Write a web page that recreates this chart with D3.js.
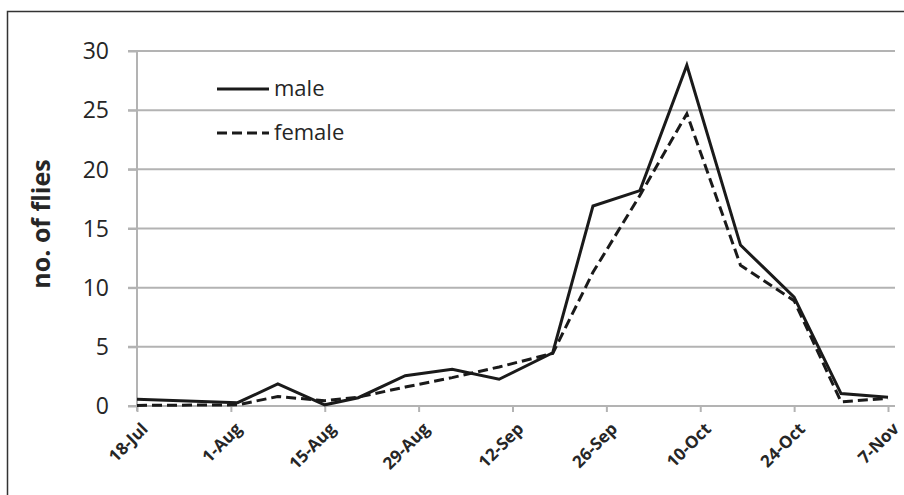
<!DOCTYPE html>
<html>
<head>
<meta charset="utf-8">
<script src="https://cdn.jsdelivr.net/npm/d3@7"></script>
<style>
  body { margin: 0; background: #fff; }
  svg { display: block; }
  .grid line { stroke: #b3b3b3; stroke-width: 2; }
  .axis path, .axis line { stroke: #b3b3b3; stroke-width: 2; }
  .ylabel { font-family: "Open Sans", sans-serif; font-size: 23px; fill: #262626; }
  .xlabel { font-family: "Open Sans", sans-serif; font-size: 17px; font-weight: bold; fill: #262626; }
  .title { font-family: "Open Sans", sans-serif; font-size: 25px; font-weight: bold; fill: #262626; }
  .legend text { font-family: "Open Sans", sans-serif; font-size: 22px; fill: #262626; }
</style>
</head>
<body>
<script>

//------------------------------------------------------------------------------
// Data
//------------------------------------------------------------------------------

var sampleDates = ["2011-07-18", "2011-08-02", "2011-08-08", "2011-08-15",
  "2011-08-20", "2011-08-27", "2011-09-03", "2011-09-10", "2011-09-18",
  "2011-09-24", "2011-10-01", "2011-10-08", "2011-10-16", "2011-10-24",
  "2011-10-31", "2011-11-07"];

var male = [0.57, 0.28, 1.86, 0.1, 0.7, 2.56, 3.1, 2.26, 4.5,
  16.9, 18.2, 28.8, 13.6, 9.2, 1.05, 0.73];

var female = [0.05, 0.1, 0.8, 0.45, 0.75, 1.6, 2.4, 3.3, 4.45,
  11.3, 17.8, 24.7, 11.9, 8.9, 0.35, 0.65];

var tickDates = ["2011-07-18", "2011-08-01", "2011-08-15", "2011-08-29",
  "2011-09-12", "2011-09-26", "2011-10-10", "2011-10-24", "2011-11-07"];

var yTicks = [0, 5, 10, 15, 20, 25, 30];

var series = [
  {name: "male", values: male, dash: null},
  {name: "female", values: female, dash: "10,5"}
];

//------------------------------------------------------------------------------
// Layout
//------------------------------------------------------------------------------

var width = 904, height = 495;
var plotLeft = 137, plotRight = 888, plotTop = 51, plotBottom = 406;

var parse = d3.utcParse("%Y-%m-%d");
var fmt = d3.utcFormat("%-d-%b");

var svg = d3.select("body").append("svg")
  .attr("width", width)
  .attr("height", height);

// frame
svg.append("rect")
  .attr("x", 7.5).attr("y", 11.5)
  .attr("width", 920).attr("height", 520)
  .attr("fill", "#fff")
  .attr("stroke", "#333")
  .attr("stroke-width", 1.5);

var x = d3.scaleUtc()
  .domain([parse(tickDates[0]), parse(tickDates[tickDates.length - 1])])
  .range([plotLeft, plotRight]);

var y = d3.scaleLinear()
  .domain([0, 30])
  .range([plotBottom, plotTop]);

//------------------------------------------------------------------------------
// Grid and axes
//------------------------------------------------------------------------------

svg.append("g")
  .attr("class", "grid")
  .selectAll("line")
  .data(yTicks.slice(1))
  .enter().append("line")
    .attr("x1", plotLeft - 9)
    .attr("x2", 895)
    .attr("y1", function(d) { return y(d); })
    .attr("y2", function(d) { return y(d); });

// y axis line with outer ticks
var yAxis = svg.append("g")
  .attr("class", "axis")
  .attr("transform", "translate(" + plotLeft + ",0)")
  .call(d3.axisLeft(y).tickValues(yTicks).tickSize(9).tickFormat(""));
yAxis.select(".domain").attr("d", "M0," + plotTop + "V" + (plotBottom + 5));

svg.append("g")
  .selectAll("text")
  .data(yTicks)
  .enter().append("text")
    .attr("class", "ylabel")
    .attr("x", 109)
    .attr("y", function(d) { return y(d); })
    .attr("dy", "0.36em")
    .attr("text-anchor", "end")
    .text(function(d) { return d; });

var xAxis = svg.append("g")
  .attr("class", "axis")
  .attr("transform", "translate(0," + plotBottom + ")")
  .call(d3.axisBottom(x).tickValues(tickDates.map(parse)).tickSize(6).tickSizeOuter(0).tickFormat(""));
xAxis.select(".domain").attr("d", "M" + (plotLeft - 9) + ",0H895");

svg.append("g")
  .selectAll("text")
  .data(tickDates.map(parse))
  .enter().append("text")
    .attr("class", "xlabel")
    .attr("text-anchor", "end")
    .attr("transform", function(d) {
      return "translate(" + (x(d) + 12) + "," + (plotBottom + 24) + ") rotate(-45)";
    })
    .text(function(d) { return fmt(d); });

svg.append("text")
  .attr("class", "title")
  .attr("text-anchor", "middle")
  .attr("transform", "translate(50,224) rotate(-90)")
  .text("no. of flies");

//------------------------------------------------------------------------------
// Lines
//------------------------------------------------------------------------------

var line = d3.line()
  .x(function(d, i) { return x(parse(sampleDates[i])); })
  .y(function(d) { return y(d); });

svg.append("g")
  .selectAll("path")
  .data(series)
  .enter().append("path")
    .attr("d", function(d) { return line(d.values); })
    .attr("fill", "none")
    .attr("stroke", "#1a1a1a")
    .attr("stroke-width", 3)
    .attr("stroke-linejoin", "miter")
    .attr("stroke-dasharray", function(d) { return d.dash; });

//------------------------------------------------------------------------------
// Legend
//------------------------------------------------------------------------------

var legend = svg.append("g")
  .attr("class", "legend")
  .selectAll("g")
  .data(series)
  .enter().append("g")
    .attr("transform", function(d, i) { return "translate(217," + (89 + i * 44) + ")"; });

legend.append("line")
  .attr("x1", 0).attr("x2", 52)
  .attr("stroke", "#1a1a1a")
  .attr("stroke-width", 3)
  .attr("stroke-dasharray", function(d) { return d.dash; });

legend.append("text")
  .attr("x", 57)
  .attr("dy", "0.32em")
  .text(function(d) { return d.name; });

</script>
</body>
</html>
